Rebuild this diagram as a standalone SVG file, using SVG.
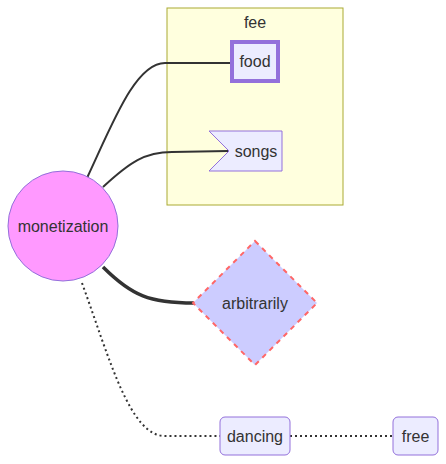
<svg xmlns="http://www.w3.org/2000/svg" width="446" height="464" viewBox="0 0 446 464">
<style>
text{font-family:"Liberation Sans",Arial,sans-serif;font-size:16px;fill:#333;text-anchor:middle;dominant-baseline:central}
.node{fill:#ECECFF;stroke:#9370DB;stroke-width:1}
.edge{fill:none;stroke:#333;stroke-width:2}
</style>
<rect width="446" height="464" fill="#fff"/>
<g id="cluster-fee">
<rect x="167" y="8" width="176" height="197" fill="#ffffde" stroke="#aaaa33" stroke-width="1"/>
<text x="255" y="22">fee</text>
</g>
<g id="edges">
<path class="edge" d="M87,178 C112,125 135,63 165,63 L231,63"/>
<path class="edge" d="M103,187 C130,162 145,152 172,152 L228,151"/>
<path class="edge" d="M103,267 C132,296 150,303 194,303" style="stroke-width:3.5"/>
<path class="edge" d="M82,283 C110,360 130,436 165,436 L220,436" stroke-dasharray="2,3"/>
<path class="edge" d="M290,436 L393,436" stroke-dasharray="2,3"/>
</g>
<g id="node-monetization">
<circle cx="63" cy="226" r="55" fill="#ff99ff" stroke="#9370DB" stroke-width="1"/>
<text x="63" y="226">monetization</text>
</g>
<g id="node-food">
<rect x="232" y="42" width="46" height="39" class="node" style="stroke-width:4"/>
<text x="255" y="61">food</text>
</g>
<g id="node-songs">
<polygon class="node" points="209,131 282,131 282,171 209,171 229,151"/>
<text x="256" y="151">songs</text>
</g>
<g id="node-arbitrarily">
<polygon points="255,241 317,303 255,365 193,303" fill="#ccccff" stroke="#ff6666" stroke-width="2" stroke-dasharray="5,5"/>
<text x="255" y="303">arbitrarily</text>
</g>
<g id="node-dancing">
<rect x="220" y="417" width="70" height="38" rx="5" class="node"/>
<text x="255" y="436">dancing</text>
</g>
<g id="node-free">
<rect x="393" y="417" width="45" height="38" rx="5" class="node"/>
<text x="415.5" y="436">free</text>
</g>
</svg>
